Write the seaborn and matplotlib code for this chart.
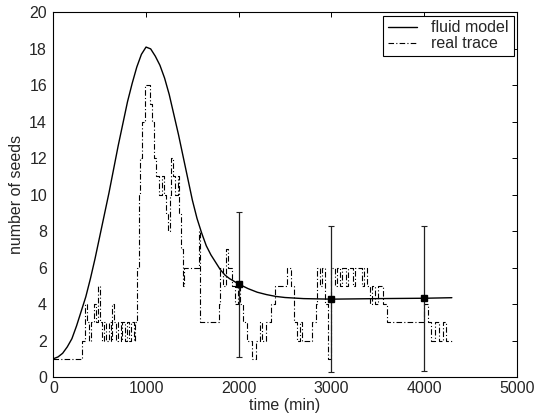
"""
Fluid model vs. real trace: number of seeds over time.
"""

import matplotlib
matplotlib.use("Agg")
import matplotlib.pyplot as plt
import seaborn as sns
import pandas as pd

# fluid model curve
model_t = [0, 50, 100, 150, 200, 250, 300, 350, 400, 450, 500,
           550, 600, 650, 700, 750, 800, 850, 900, 950, 1000,
           1050, 1100, 1150, 1200, 1250, 1300, 1350, 1400, 1450, 1500,
           1550, 1600, 1650, 1700, 1750, 1800, 1850, 1900, 1950, 2000,
           2100, 2200, 2300, 2400, 2500, 2700, 3000, 3500, 4000, 4300]
model_y = [1.0, 1.1, 1.3, 1.65, 2.1, 2.8, 3.6, 4.4, 5.4, 6.5, 7.7,
           8.9, 10.1, 11.4, 12.7, 13.9, 15.1, 16.1, 17.0, 17.7, 18.1,
           18.0, 17.6, 17.1, 16.4, 15.5, 14.4, 13.3, 12.1, 10.9, 9.7,
           8.7, 7.9, 7.2, 6.7, 6.3, 5.9, 5.6, 5.4, 5.25, 5.1,
           4.85, 4.65, 4.52, 4.42, 4.36, 4.3, 4.27, 4.3, 4.32, 4.35]

# real trace (step function), ten values per line
trace_t = [0, 310, 345, 365, 385, 410, 440, 460, 480, 500,
           520, 545, 570, 600, 620, 635, 655, 680, 700, 725,
           745, 770, 790, 815, 840, 870, 885, 905, 920, 940,
           960, 985, 1040, 1065, 1085, 1110, 1140, 1170, 1195, 1215,
           1235, 1255, 1270, 1290, 1315, 1340, 1355, 1375, 1395, 1415,
           1570, 1585, 1785, 1800, 1830, 1860, 1885, 1925, 1960, 1990,
           2015, 2045, 2085, 2140, 2185, 2225, 2255, 2295, 2345, 2390,
           2520, 2560, 2600, 2630, 2660, 2680, 2790, 2830, 2850, 2880,
           2900, 2930, 2960, 2995, 3040, 3060, 3090, 3110, 3160, 3180,
           3230, 3260, 3330, 3350, 3380, 3420, 3440, 3470, 3500, 3560,
           3600, 4000, 4040, 4080, 4120, 4160, 4200, 4240, 4300]
trace_y = [1, 2, 4, 3, 2, 3, 4, 3, 5, 3,
           2, 3, 2, 3, 2, 4, 3, 2, 3, 2,
           3, 2, 3, 2, 3, 2, 3, 6, 10, 12,
           14, 16, 15, 14, 12, 11, 10, 11, 10, 9,
           8, 10, 12, 11, 10, 11, 9, 7, 5, 6,
           8, 3, 4, 6, 5, 7, 6, 5, 4, 5,
           4, 3, 2, 1, 2, 3, 2, 3, 4, 5,
           6, 5, 3, 2, 3, 2, 3, 4, 6, 5,
           6, 4, 1, 6, 5, 6, 5, 6, 5, 6,
           5, 6, 5, 6, 5, 4, 5, 4, 5, 4,
           3, 4, 3, 2, 3, 2, 3, 2, 2]

# error bars on the fluid model
err_t = [2000, 3000, 4000]
err_mean = [5.08, 4.27, 4.33]
err_low = [1.1, 0.25, 0.33]
err_high = [9.03, 8.27, 8.3]

sns.set_theme(style="white")
plt.rcParams["font.family"] = ["Liberation Sans", "DejaVu Sans"]
plt.rcParams.update({
    "font.size": 11.5,
    "xtick.direction": "in",
    "ytick.direction": "in",
    "xtick.top": True,
    "ytick.right": True,
    "axes.edgecolor": "black",
    "axes.linewidth": 0.8,
})

model = pd.DataFrame({"t": model_t, "y": model_y})
trace = pd.DataFrame({"t": trace_t, "y": trace_y})

fig = plt.figure(figsize=(5.39, 4.2), dpi=100)
ax = fig.add_axes([0.099, 0.1024, 0.8597, 0.868])

sns.lineplot(data=model, x="t", y="y", ax=ax, color="black", linewidth=1.0,
             estimator=None, sort=False, label="fluid model")
sns.lineplot(data=trace, x="t", y="y", ax=ax, color="black", linewidth=0.8,
             estimator=None, sort=False, drawstyle="steps-post",
             linestyle=(0, (5, 2, 1, 2)), label="real trace")

yerr = [[m - lo for m, lo in zip(err_mean, err_low)],
        [hi - m for m, hi in zip(err_mean, err_high)]]
ax.errorbar(err_t, err_mean, yerr=yerr, fmt="s", color="black", ecolor="#222222",
            elinewidth=0.9, capsize=2, capthick=0.8, markersize=5, zorder=5)

ax.set_xlim(0, 5000)
ax.set_ylim(0, 20)
ax.set_xticks(range(0, 5001, 1000))
ax.set_yticks(range(0, 21, 2))
ax.tick_params(axis="both", length=3.5, width=0.7, color="black", labelsize=11.5, pad=3)
ax.tick_params(axis="y", pad=4.5)
ax.set_xlabel("time (min)", fontsize=11.5, labelpad=1)
ax.set_ylabel("number of seeds", fontsize=11.5, labelpad=4)

leg = ax.legend(loc="upper right", fontsize=11.5, frameon=True, fancybox=False,
                edgecolor="black", framealpha=1, borderaxespad=0.2,
                labelspacing=0.05, borderpad=0.3, handlelength=1.8, handletextpad=0.9)
leg.get_frame().set_linewidth(0.8)

fig.savefig("out.png", dpi=100)
plt.close(fig)
